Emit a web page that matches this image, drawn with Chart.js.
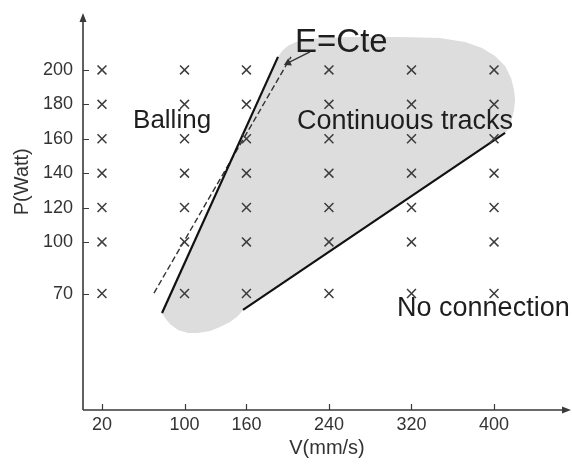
<!DOCTYPE html>
<html><head><meta charset="utf-8">
<script src="https://cdn.jsdelivr.net/npm/chart.js@4"></script>
<style>html,body{margin:0;padding:0;background:#fff}canvas{display:block}</style>
</head><body>
<canvas id="c" width="572" height="465"></canvas>
<script>
// ---- data ----
const speeds = [20, 100, 160, 240, 320, 400];          // V (mm/s)
const powers = [70, 100, 120, 140, 160, 180, 200];     // P (Watt)
const xTicks = [20, 100, 160, 240, 320, 400];
const yTicks = [70, 100, 120, 140, 160, 180, 200];

// "Continuous tracks" region outline (V, P)
const regionV = [190.6,194.5,200.3,208.1,219.7,236.2,260.4,308.9,347.6,371.9,388.4,401.0,410.7,416.5,419.4,420.4,419.4,416.5,412.6,410.7,
                 156.7,151.8,144.1,134.4,124.7,113.1,103.4,93.7,85.9,81.1,78.2];
const regionP = [207.6,211.0,214.0,216.3,218.0,218.6,219.2,219.2,218.6,216.3,212.8,208.1,202.3,195.3,188.4,182.6,176.7,169.8,164.5,163.4,
                 60.5,57.0,53.5,50.6,48.3,47.1,47.1,48.8,52.3,55.8,58.7];

// boundary lines
const ballingLineV = [78.2, 190.6];
const ballingLineP = [58.7, 207.6];
const energyLineV  = [70.4, 203.2];
const energyLineP  = [70.3, 207.6];
const noConnLineV  = [156.7, 410.7];
const noConnLineP  = [60.5, 163.4];
const arrowV = [221.6, 200.3];
const arrowP = [210.5, 204.1];

// annotation texts, anchored (left, baseline) in data units
const labelTexts = ['Balling', 'Continuous tracks', 'No connection', 'E=Cte'];
const labelV = [50.1, 209.0, 306.0, 207.1];
const labelP = [166.3, 165.7, 57.0, 210.5];
const labelSizes = [26, 27, 27, 33];

// ---- build ----
const FONT = "'Liberation Sans', Arial, sans-serif";
const pts = (xs, ys) => xs.map((x, i) => ({x, y: ys[i]}));
const grid = [];
speeds.forEach(v => powers.forEach(p => grid.push({x: v, y: p})));

const deco = {
  id: 'deco',
  afterDraw(chart) {
    const {ctx, chartArea: a, scales: {x, y}} = chart;
    ctx.save();
    ctx.strokeStyle = '#3a3a3a';
    ctx.fillStyle = '#3a3a3a';
    ctx.lineWidth = 1.6;
    // axes
    ctx.beginPath();
    ctx.moveTo(a.left, a.bottom); ctx.lineTo(a.right - 6, a.bottom);
    ctx.moveTo(a.left, a.bottom); ctx.lineTo(a.left, a.top + 6);
    ctx.stroke();
    // arrowheads
    ctx.beginPath();
    ctx.moveTo(a.right, a.bottom); ctx.lineTo(a.right - 9, a.bottom - 3.5); ctx.lineTo(a.right - 9, a.bottom + 3.5); ctx.closePath();
    ctx.moveTo(a.left, a.top); ctx.lineTo(a.left - 3.5, a.top + 9); ctx.lineTo(a.left + 3.5, a.top + 9); ctx.closePath();
    ctx.fill();
    // inner tick marks
    ctx.lineWidth = 1.2;
    ctx.beginPath();
    xTicks.forEach(v => { const px = Math.round(x.getPixelForValue(v)) + 0.5; ctx.moveTo(px, a.bottom); ctx.lineTo(px, a.bottom - 6); });
    yTicks.forEach(v => { const py = Math.round(y.getPixelForValue(v)) + 0.5; ctx.moveTo(a.left, py); ctx.lineTo(a.left + 6, py); });
    ctx.stroke();
    // y title
    ctx.save();
    ctx.translate(22, y.getPixelForValue(135));
    ctx.rotate(-Math.PI / 2);
    ctx.textAlign = 'center'; ctx.textBaseline = 'middle';
    ctx.font = '20px ' + FONT;
    ctx.fillStyle = '#333';
    ctx.fillText('P(Watt)', 0, 0);
    ctx.restore();
    // annotations
    ctx.fillStyle = '#1e1e1e';
    ctx.textAlign = 'left'; ctx.textBaseline = 'alphabetic';
    labelTexts.forEach((t, i) => {
      ctx.font = labelSizes[i] + 'px ' + FONT;
      ctx.fillText(t, x.getPixelForValue(labelV[i]), y.getPixelForValue(labelP[i]));
    });
    ctx.restore();
  }
};

const noPad = s => { s.paddingTop = 0; s.paddingBottom = 0; s.paddingLeft = 0; s.paddingRight = 0; };

new Chart(document.getElementById('c'), {
  type: 'line',
  data: {
    datasets: [
      { data: grid, showLine: false, pointStyle: 'crossRot', pointRadius: 6.3, borderColor: '#3c3c3c', pointBorderWidth: 1.5, order: 0 },
      { data: pts(ballingLineV, ballingLineP), borderColor: '#111', borderWidth: 2.2, pointRadius: 0, order: 1 },
      { data: pts(energyLineV, energyLineP), borderColor: '#333', borderWidth: 1.4, borderDash: [6, 3], pointRadius: 0, order: 1 },
      { data: pts(noConnLineV, noConnLineP), borderColor: '#111', borderWidth: 2.2, pointRadius: 0, order: 1 },
      { data: pts(arrowV, arrowP), borderColor: '#333', borderWidth: 1.2, pointStyle: 'triangle', pointRadius: [0, 3.5], pointRotation: [0, 243], pointBackgroundColor: '#333', pointBorderColor: '#333', order: 1 },
      { data: pts(regionV, regionP), borderWidth: 0, borderColor: 'rgba(0,0,0,0)', backgroundColor: '#dddddd', fill: 'shape', pointRadius: 0, tension: 0, order: 10 }
    ]
  },
  options: {
    responsive: false,
    animation: false,
    events: [],
    layout: { autoPadding: false, padding: { top: 13, right: 1, left: 0, bottom: 0 } },
    plugins: { legend: { display: false }, tooltip: { enabled: false } },
    scales: {
      x: {
        type: 'linear', min: 1.6, max: 474.6,
        grid: { display: false, drawTicks: false }, border: { display: false },
        ticks: { padding: 4, color: '#333', font: { size: 18, family: FONT }, maxRotation: 0, autoSkip: false },
        afterBuildTicks: s => { s.ticks = xTicks.map(v => ({ value: v })); },
        afterFit: s => { s.height = 55; noPad(s); },
        title: { display: true, text: 'V(mm/s)', color: '#333', font: { size: 20, family: FONT }, padding: { top: 0, bottom: 5 } }
      },
      y: {
        type: 'linear', min: 2.3, max: 233.1,
        grid: { display: false, drawTicks: false }, border: { display: false },
        ticks: { padding: 10, color: '#333', font: { size: 18, family: FONT }, autoSkip: false },
        afterBuildTicks: s => { s.ticks = yTicks.map(v => ({ value: v })); },
        afterFit: s => { s.width = 83; noPad(s); }
      }
    }
  },
  plugins: [deco]
});
</script>
</body></html>
